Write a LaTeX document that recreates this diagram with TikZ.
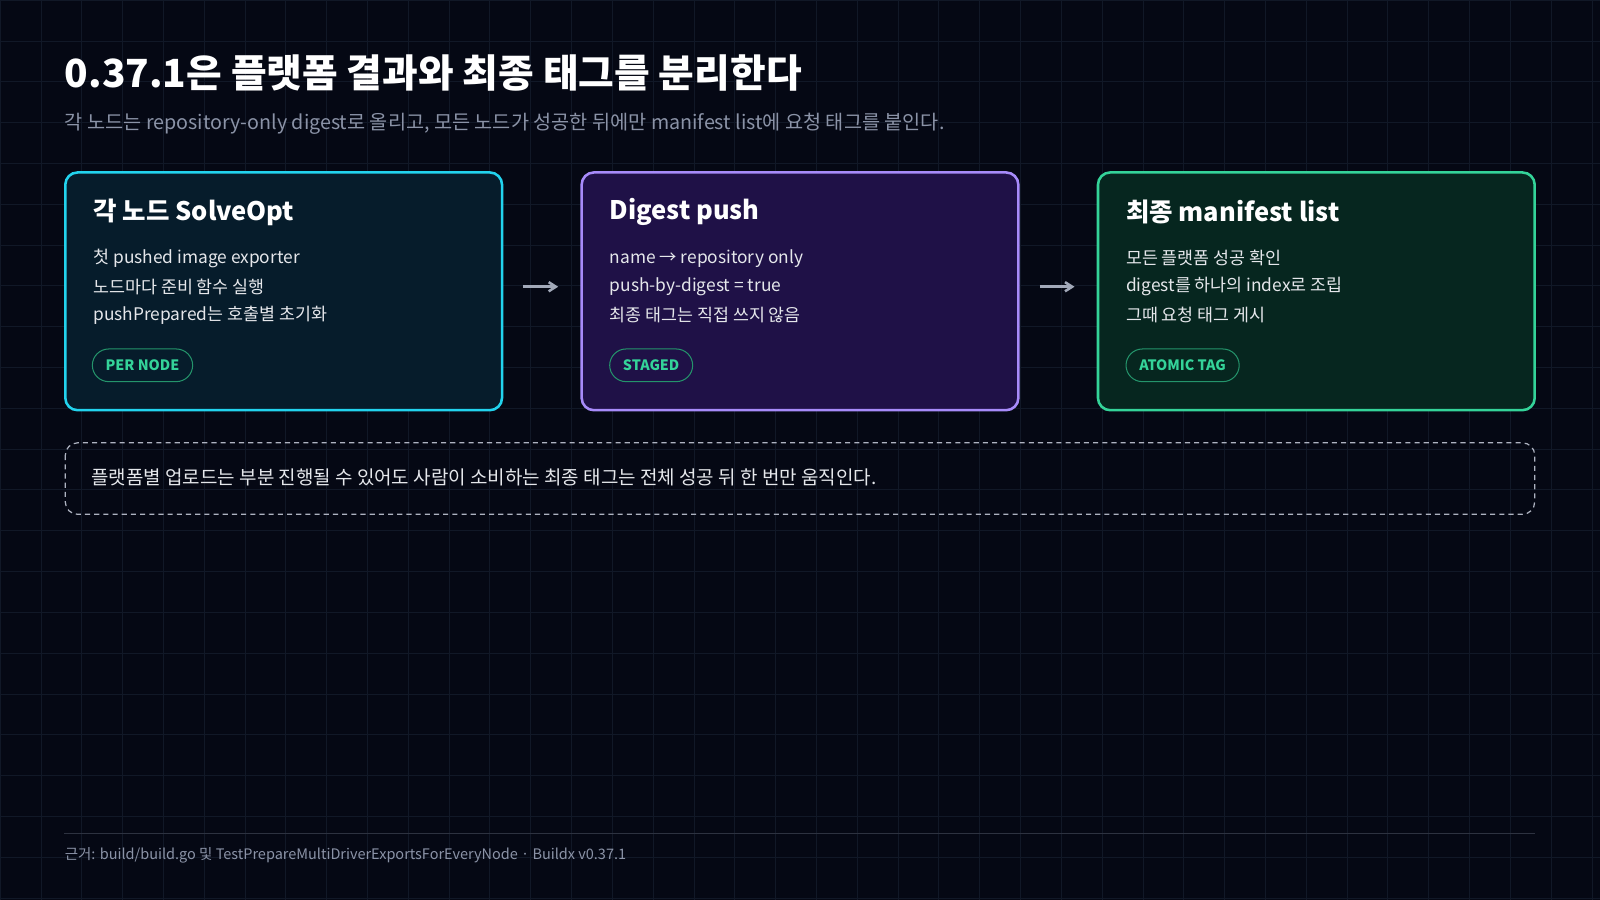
\documentclass[tikz,border=0pt]{standalone}
\usepackage{fontspec}
\setmainfont{Noto Sans CJK KR}
\usetikzlibrary{arrows.meta}
\definecolor{bg}{HTML}{050814}
\definecolor{gridc}{HTML}{111827}
\definecolor{cy}{HTML}{22D3EE}
\definecolor{pu}{HTML}{A78BFA}
\definecolor{gr}{HTML}{34D399}
\definecolor{cyf}{HTML}{061C2B}
\definecolor{puf}{HTML}{1F1147}
\definecolor{grf}{HTML}{06261F}
\definecolor{txt}{HTML}{E5E7EB}
\definecolor{sub}{HTML}{8B93A7}
\tikzset{
 card/.style={rounded corners=12pt,line width=2.5pt},
 head/.style={anchor=west,text=white,font=\fontsize{25}{28}\selectfont\bfseries},
 line/.style={anchor=west,text=txt,font=\fontsize{17}{20}\selectfont},
 pill/.style={anchor=west,draw=gr!70!black,line width=1pt,rounded corners=16pt,minimum height=32pt,inner xsep=13pt,text=gr,font=\fontsize{14}{16}\selectfont\bfseries},
 arr/.style={-{Straight Barb[length=7pt,width=9pt]},line width=2.5pt,draw=sub!80},
}
\begin{document}
\begin{tikzpicture}[x=1pt,y=-1pt]
\useasboundingbox (0,0) rectangle (1568,882);
\fill[bg] (0,0) rectangle (1568,882);
\foreach \i in {0,40,...,1560} \draw[gridc,line width=0.6pt] (\i,0)--(\i,882);
\foreach \j in {0,40,...,880} \draw[gridc,line width=0.6pt] (0,\j)--(1568,\j);
\node[anchor=west,text=white,font=\fontsize{38}{42}\selectfont\bfseries] (title) at (60,72) {0.37.1은 플랫폼 결과와 최종 태그를 분리한다};
\node[anchor=west,text=sub,font=\fontsize{19.3}{22}\selectfont] (subt) at (60,121) {각 노드는 repository-only digest로 올리고, 모든 노드가 성공한 뒤에만 manifest list에 요청 태그를 붙인다.};
% cards
\draw[card,draw=cy,fill=cyf] (64,169) rectangle (492,402);
\draw[card,draw=pu,fill=puf] (570,169) rectangle (998,402);
\draw[card,draw=gr,fill=grf] (1076,169) rectangle (1504,402);
\node[head] (h1) at (88,208) {각 노드 SolveOpt};
\node[line] (a1) at (88,253) {첫 pushed image exporter};
\node[line] (a2) at (88,281) {노드마다 준비 함수 실행};
\node[line] (a3) at (88,309) {pushPrepared는 호출별 초기화};
\node[pill] (p1) at (90,358) {PER NODE};
\node[head] (h2) at (594,208) {Digest push};
\node[line] (b1) at (594,253) {name → repository only};
\node[line] (b2) at (594,281) {push-by-digest = true};
\node[line] (b3) at (594,309) {최종 태그는 직접 쓰지 않음};
\node[pill] (p2) at (597,358) {STAGED};
\node[head] (h3) at (1100,208) {최종 manifest list};
\node[line] (c1) at (1100,253) {모든 플랫폼 성공 확인};
\node[line] (c2) at (1100,281) {digest를 하나의 index로 조립};
\node[line] (c3) at (1100,309) {그때 요청 태그 게시};
\node[pill] (p3) at (1103,358) {ATOMIC TAG};
\coordinate (s1) at (513,281); \coordinate (e1) at (547,281);
\coordinate (s2) at (1019,281); \coordinate (e2) at (1053,281);
\draw[arr] (s1)--(e1);
\draw[arr] (s2)--(e2);
% note
\draw[rounded corners=12pt,draw=sub!70,line width=1.2pt,dash pattern=on 5pt off 4pt] (64,434) rectangle (1504,504);
\node[line,font=\fontsize{18.6}{22}\selectfont] (note) at (86,468) {플랫폼별 업로드는 부분 진행될 수 있어도 사람이 소비하는 최종 태그는 전체 성공 뒤 한 번만 움직인다.};
% footer
\draw[sub!30!bg,line width=1pt] (63,817)--(1504,817);
\node[anchor=west,text=sub,font=\fontsize{14.2}{16}\selectfont] (foot) at (60,838) {근거: build/build.go 및 TestPrepareMultiDriverExportsForEveryNode · Buildx v0.37.1};
\end{tikzpicture}
\end{document}
